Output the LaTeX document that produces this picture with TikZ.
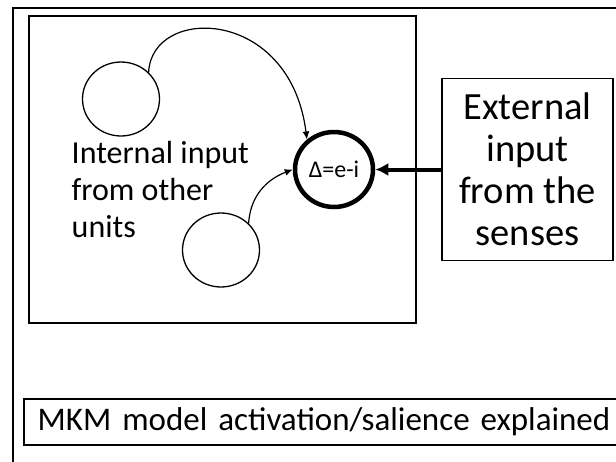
\documentclass[tikz,border=0pt]{standalone}
\usepackage{fontspec}
\setmainfont{Carlito}
\usetikzlibrary{shapes.geometric,arrows.meta}

\begin{document}
\begin{tikzpicture}[x={(1pt,0pt)}, y={(0pt,-1pt)}]
 \tikzstyle{unitnode} = [draw=black,line width=1.3pt,ellipse,minimum width=77pt,minimum height=74pt,inner sep=0]
 \tikzstyle{deltanode} = [draw=black,line width=4.5pt,ellipse,minimum width=78pt,minimum height=75pt,inner sep=0,font=\fontsize{24}{28}\selectfont]
 \tikzstyle{extbox} = [draw=black,line width=1.5pt,minimum width=171pt,minimum height=182pt,align=center,inner sep=0,font=\fontsize{38.5}{42}\selectfont]
 \tikzstyle{capbox} = [draw=black,line width=1.5pt,minimum height=46pt,text width=600pt,align=left,inner xsep=14pt,inner ysep=0,font=\fontsize{33}{37}\selectfont]
 \tikzstyle{thinarrow} = [-{Latex[length=8pt,width=7pt]},line width=1.2pt]
 \tikzstyle{thickarrow} = [-{Latex[length=13pt,width=13pt]},line width=4pt]

 \useasboundingbox (0,0) rectangle (616,461);
 \clip (0,0) rectangle (616,461);

 % Frames
 \draw[line width=2pt] (13,8) rectangle (640,490);
 \draw[line width=1.6pt] (29,16) rectangle (416,323);

 % Units
 \node[unitnode] (u1) at (121,99) {};
 \node[unitnode] (u2) at (221,250) {};
 \node[deltanode] (delta) at (334,169.5) {Δ=e-i};
 \node[anchor=north west,align=left,inner sep=0,font=\fontsize{32}{37}\selectfont] (internal) at (71.5,141) {Internal input\\from other\\units};

 \node[extbox] (ext) at (527.5,169.5) {External\\input\\from the\\senses};
 \node[capbox,anchor=north west] (caption) at (23,398) {MKM model activation/salience explained};

 % Inputs
 \draw[thinarrow] (u1.44) .. controls +(3,-67) and +(-17,-133) .. (delta.132);
 \draw[thinarrow] (u2.44) .. controls +(2,-32) and +(-21,8) .. (delta.180);
 \draw[thickarrow] (ext) -- (delta);

\end{tikzpicture}
\end{document}
